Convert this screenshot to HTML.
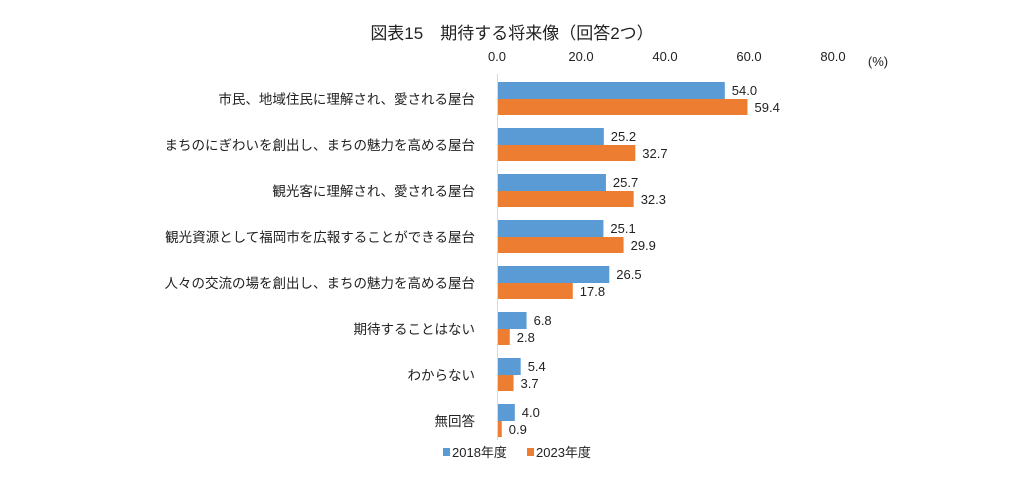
<!DOCTYPE html>
<html><head><meta charset="utf-8"><style>
body{margin:0;background:#fff;}
svg text{font-family:"Liberation Sans","Noto Sans CJK JP",sans-serif;fill:#222;}
</style></head><body>
<svg width="1024" height="488" xmlns="http://www.w3.org/2000/svg">
<text x="512" y="39" font-size="17" text-anchor="middle">図表15　期待する将来像（回答2つ）</text>
<g font-size="13" text-anchor="middle">
<text x="497" y="61">0.0</text><text x="581" y="61">20.0</text><text x="665" y="61">40.0</text><text x="749" y="61">60.0</text><text x="833" y="61">80.0</text>
</g>
<text x="878" y="66" font-size="13" text-anchor="middle">(%)</text>
<line x1="497.5" y1="74" x2="497.5" y2="440" stroke="#d9d9d9" stroke-width="1"/>
<g font-size="13.5" text-anchor="end">
<text x="475" y="104">市民、地域住民に理解され、愛される屋台</text>
<text x="475" y="150">まちのにぎわいを創出し、まちの魅力を高める屋台</text>
<text x="475" y="196">観光客に理解され、愛される屋台</text>
<text x="475" y="242">観光資源として福岡市を広報することができる屋台</text>
<text x="475" y="288">人々の交流の場を創出し、まちの魅力を高める屋台</text>
<text x="475" y="334">期待することはない</text>
<text x="475" y="380">わからない</text>
<text x="475" y="426">無回答</text>
</g>
<g fill="#5b9bd5">
<rect x="498" y="82" width="226.8" height="17"/>
<rect x="498" y="128" width="105.84" height="17"/>
<rect x="498" y="174" width="107.94" height="17"/>
<rect x="498" y="220" width="105.42" height="17"/>
<rect x="498" y="266" width="111.3" height="17"/>
<rect x="498" y="312" width="28.56" height="17"/>
<rect x="498" y="358" width="22.68" height="17"/>
<rect x="498" y="404" width="16.8" height="17"/>
</g>
<g fill="#ed7d31">
<rect x="498" y="99" width="249.48" height="16"/>
<rect x="498" y="145" width="137.34" height="16"/>
<rect x="498" y="191" width="135.66" height="16"/>
<rect x="498" y="237" width="125.58" height="16"/>
<rect x="498" y="283" width="74.76" height="16"/>
<rect x="498" y="329" width="11.76" height="16"/>
<rect x="498" y="375" width="15.54" height="16"/>
<rect x="498" y="421" width="3.78" height="16"/>
</g>
<g font-size="13">
<text x="731.8" y="95">54.0</text><text x="754.5" y="112">59.4</text>
<text x="610.8" y="141">25.2</text><text x="642.3" y="158">32.7</text>
<text x="612.9" y="187">25.7</text><text x="640.7" y="204">32.3</text>
<text x="610.4" y="233">25.1</text><text x="630.6" y="250">29.9</text>
<text x="616.3" y="279">26.5</text><text x="579.8" y="296">17.8</text>
<text x="533.6" y="325">6.8</text><text x="516.8" y="342">2.8</text>
<text x="527.7" y="371">5.4</text><text x="520.5" y="388">3.7</text>
<text x="521.8" y="417">4.0</text><text x="508.8" y="434">0.9</text>
</g>
<rect x="443" y="448" width="7" height="8" fill="#5b9bd5"/>
<text x="452" y="457" font-size="13">2018年度</text>
<rect x="527" y="448" width="7" height="8" fill="#ed7d31"/>
<text x="536" y="457" font-size="13">2023年度</text>
</svg>
</body></html>
